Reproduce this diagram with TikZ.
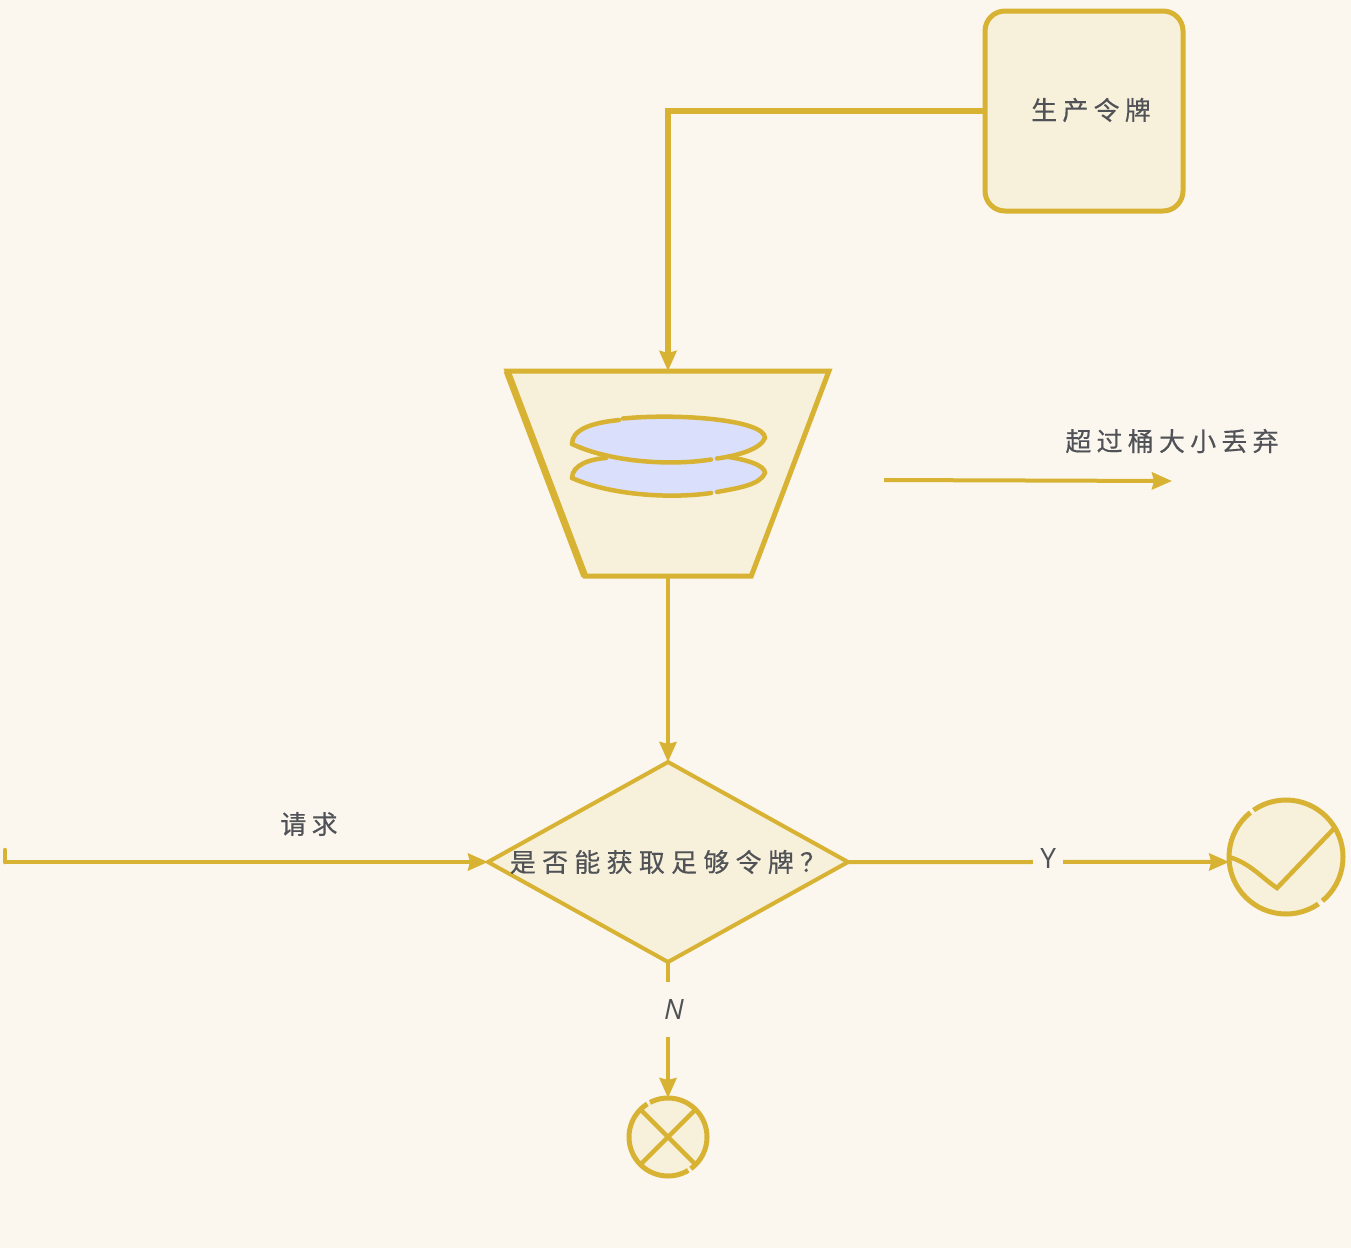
\documentclass[tikz,border=0pt]{standalone}
\usepackage{fontspec}
\setmainfont{Noto Sans CJK SC}[LetterSpace=20,FakeBold=0.3]
\newfontfamily\latinhand{Open Sans}
\usetikzlibrary{arrows.meta,positioning,shapes.geometric}
\definecolor{bgcol}{HTML}{FBF7EE}
\definecolor{boxcol}{HTML}{F7F0DA}
\definecolor{linecol}{HTML}{D8B233}
\definecolor{tokencol}{HTML}{DADFFB}
\definecolor{textcol}{HTML}{505257}
\tikzset{
  box/.style={draw=linecol,fill=boxcol,line width=5pt,inner sep=0pt,outer sep=0pt,text=textcol},
  lbl/.style={text=textcol,font=\fontsize{26pt}{30pt}\selectfont,inner sep=0pt},
  yn/.style={text=textcol,fill=bgcol,font=\latinhand\fontsize{28pt}{30pt}\selectfont,inner sep=0pt},
  flow/.style={draw=linecol,line width=4pt,-{Stealth[length=20pt,width=17pt,inset=2pt]}},
  rim/.style={draw=linecol,line width=4.5pt,line cap=round},
}
\begin{document}
\begin{tikzpicture}[x=1pt,y=-1pt]
   \useasboundingbox (0,0) rectangle (1351,1248);
   \fill[bgcol] (0,0) rectangle (1351,1248);
   \node[box,lbl,rounded corners=20pt,minimum width=198pt,minimum height=200pt] (maker) at (1084,111) {};
   \node[lbl] (makerlbl) at (1091,110) {生产令牌};
   \node[box,inner sep=2pt,trapezium,shape border rotate=180,trapezium stretches=true,trapezium angle=65,
     minimum width=322pt,minimum height=205pt] (bucket) at (668,473.5) {};
   \node[box,diamond,aspect=1.8,minimum width=360pt,minimum height=200pt,line width=4pt,
     font=\fontsize{26pt}{30pt}\selectfont] (ask) at (668,862)
     {\makebox[290pt][c]{\addfontfeature{LetterSpace=24}是否能获取足够令牌？}};
   \node[box,circle,minimum size=114pt,dash pattern=on 124pt off 4pt on 175pt off 5pt on 100pt off 0pt] (okc) at (1286,857) {};
   \node[box,circle,minimum size=78pt,dash pattern=on 80pt off 3pt on 122pt off 3pt on 60pt off 0pt] (noc) at (668,1137) {};
   \coordinate (bend) at (668,111);
   \coordinate (spill0) at (884,480);
   \coordinate (spill1) at (1172,481);
   \coordinate (req0) at (5,862);
   \coordinate (reqtick) at (5,850);
   \draw[rim,line width=7pt,line cap=butt] (bucket.bottom right corner) -- (bucket.top right corner);
   % tokens, lower one first
   \fill[tokencol] (572,478) .. controls (572,465) and (590,457) .. (620,456) -- (715,456)
     .. controls (745,458) and (765,465) .. (765,473) .. controls (760,485) and (735,489) .. (714,493)
     .. controls (670,499) and (610,495) .. (572,478) -- cycle;
   \draw[rim] (572,478) .. controls (572,465) and (590,459) .. (606,458);
   \draw[rim] (722,456) .. controls (745,459) and (765,465) .. (765,473) .. controls (760,485) and (738,488) .. (717,492);
   \draw[rim] (711,493) .. controls (670,499) and (610,495) .. (572,478);
   \fill[tokencol] (572,444) .. controls (572,430) and (590,423) .. (620,419) .. controls (680,413) and (765,420) .. (765,438)
     .. controls (760,450) and (735,456) .. (714,459) .. controls (670,466) and (610,462) .. (572,444) -- cycle;
   \draw[rim] (572,444) .. controls (572,430) and (590,423) .. (619,420);
   \draw[rim] (623,418.5) .. controls (680,413) and (765,420) .. (765,438) .. controls (760,450) and (735,456) .. (717,458.5);
   \draw[rim] (711,459.5) .. controls (670,466) and (610,462) .. (572,444);
   % flow
   \draw[flow,line width=5.5pt] (maker.west) -- (bend) -- (bucket.north);
   \draw[flow] (bucket.south) -- (ask.north);
   \draw[flow] (spill0) -- (spill1);
   \draw[flow] (req0) -- (ask.west);
   \draw[rim] (req0) -- (reqtick);
   \draw[flow] (ask.east) -- node[yn,pos=.525,yshift=3pt,minimum width=30pt,minimum height=28pt] (yes) {Y} (okc.185);
   \draw[flow] (ask.south) -- node[yn,pos=.35,xshift=6pt,minimum width=26pt,minimum height=55pt] (no) {\itshape N} (noc.north);
   \node[lbl] (spilllbl) at (1172,441) {超过桶大小丢弃};
   \node[lbl] (reqlbl) at (309,824) {请求};
   % marks
   \draw[rim] (okc.180) .. controls (1250,863) and (1262,878) .. (1277,888) -- (okc.31);
   \draw[rim] (noc.45) -- (noc.225);
   \draw[rim] (noc.135) -- (noc.-45);
\end{tikzpicture}
\end{document}
